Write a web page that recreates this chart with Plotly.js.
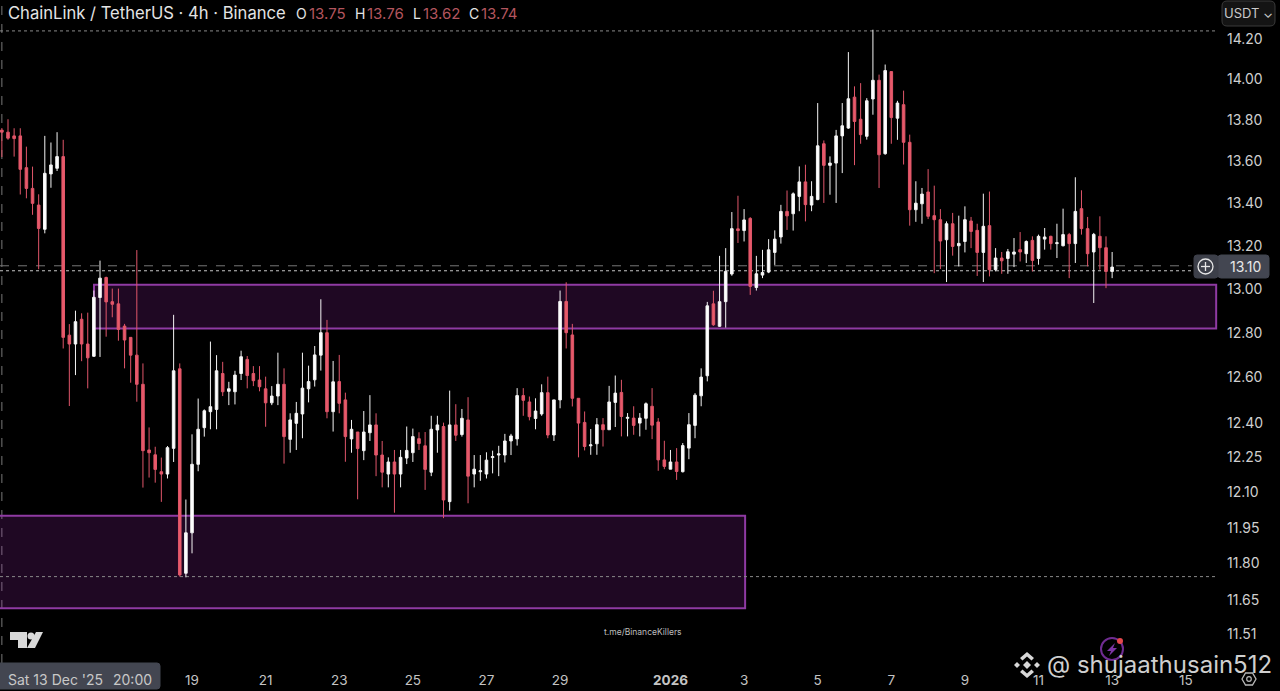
<!DOCTYPE html>
<html>
<head>
<meta charset="utf-8">
<script src="https://cdn.plot.ly/plotly-3.0.1.min.js"></script>
<style>html,body{margin:0;padding:0;background:#000;overflow:hidden}#chart{width:1280px;height:691px}</style>
</head>
<body>
<div id="chart"></div>
<script>
const firstBar = "2025-12-13T20:00:00Z";
const barHours = 4;

const opens = [
13.75,13.740,13.722,13.722,13.569,13.470,13.391,13.277,13.539,13.566,13.622,12.790,12.750,12.862,12.750,12.695,12.961,13.053,12.942,12.932,
12.831,12.780,12.700,12.570,12.282,12.261,12.188,12.178,12.289,12.639,11.759,11.928,12.220,12.379,12.449,12.459,12.618,12.539,12.537,12.618,
12.681,12.618,12.589,12.550,12.488,12.518,12.570,12.328,12.398,12.439,12.550,12.590,12.700,12.801,12.449,12.582,12.501,12.330,12.360,12.279,
12.357,12.391,12.260,12.178,12.230,12.178,12.247,12.270,12.331,12.300,12.186,12.369,12.384,12.060,12.391,12.349,12.413,12.178,12.188,12.178,
12.249,12.260,12.260,12.321,12.330,12.520,12.492,12.419,12.439,12.533,12.347,12.501,12.943,12.791,12.508,12.402,12.300,12.309,12.392,12.370,
12.490,12.534,12.420,12.421,12.399,12.420,12.473,12.404,12.239,12.199,12.230,12.188,12.290,12.389,12.519,12.608,12.932,12.830,12.942,13.069,
13.279,13.271,13.328,13.007,13.064,13.078,13.169,13.241,13.361,13.350,13.432,13.501,13.391,13.417,13.684,13.580,13.591,13.722,13.760,13.911,
13.803,13.720,13.902,13.994,13.636,14.037,13.808,13.874,13.691,13.369,13.397,13.453,13.341,13.322,13.228,13.303,13.200,13.220,13.316,13.272,
13.169,13.294,13.089,13.143,13.141,13.161,13.182,13.163,13.225,13.141,13.231,13.244,13.210,13.200,13.252,13.210,13.374,13.280,13.171,13.244,
13.191,13.081];
const highs = [
13.76,13.803,13.759,13.759,13.670,13.574,13.442,13.722,13.690,13.740,13.703,12.840,12.901,12.889,12.892,12.993,13.131,13.057,13.002,13.002,
12.841,12.780,13.180,12.663,12.380,12.296,12.249,12.299,12.882,12.663,12.069,12.350,12.507,12.459,12.761,12.700,12.670,12.581,12.630,12.720,
12.696,12.651,12.651,12.604,12.562,12.711,12.641,12.442,12.492,12.711,12.653,12.741,12.953,12.859,12.674,12.701,12.533,12.413,12.360,12.452,
12.522,12.442,12.321,12.250,12.282,12.282,12.384,12.375,12.359,12.360,12.431,12.431,12.401,12.542,12.482,12.461,12.513,12.260,12.260,12.272,
12.279,12.300,12.352,12.352,12.553,12.553,12.516,12.508,12.570,12.604,12.501,12.993,13.031,12.841,12.508,12.450,12.373,12.421,12.421,12.563,
12.609,12.590,12.443,12.473,12.443,12.490,12.553,12.421,12.322,12.282,12.290,12.312,12.443,12.531,12.641,12.941,12.992,13.153,13.189,13.358,
13.435,13.372,13.334,13.153,13.181,13.231,13.272,13.392,13.460,13.451,13.575,13.583,13.504,13.882,13.700,13.623,13.751,13.882,14.134,13.964,
13.980,13.906,14.246,14.022,14.072,14.039,13.893,13.943,13.728,13.504,13.472,13.562,13.483,13.372,13.314,13.354,13.341,13.385,13.335,13.303,
13.445,13.455,13.189,13.171,13.185,13.236,13.264,13.225,13.244,13.252,13.283,13.247,13.303,13.374,13.260,13.523,13.461,13.335,13.260,13.338,
13.244,13.171];
const lows = [
13.62,13.703,13.622,13.441,13.423,13.345,13.091,13.258,13.473,13.553,12.730,12.474,12.611,12.673,12.552,12.692,12.692,12.783,12.871,12.765,
12.641,12.577,12.493,12.120,12.163,12.141,12.059,12.159,12.230,11.745,11.742,11.842,12.190,12.340,12.372,12.372,12.518,12.478,12.481,12.589,
12.552,12.562,12.539,12.383,12.478,12.478,12.223,12.270,12.282,12.333,12.490,12.560,12.631,12.420,12.362,12.442,12.231,12.270,12.070,12.238,
12.321,12.169,12.121,12.121,12.013,12.121,12.221,12.230,12.282,12.110,12.169,12.270,11.990,12.022,12.321,12.340,12.053,12.121,12.149,12.159,
12.181,12.169,12.228,12.260,12.301,12.431,12.411,12.372,12.431,12.333,12.321,12.464,12.730,12.472,12.250,12.280,12.261,12.261,12.297,12.370,
12.382,12.341,12.341,12.348,12.341,12.370,12.329,12.192,12.199,12.199,12.153,12.185,12.242,12.333,12.473,12.583,12.832,12.827,12.824,13.061,
13.213,13.220,12.973,12.993,13.050,13.073,13.111,13.210,13.274,13.271,13.362,13.314,13.362,13.414,13.401,13.440,13.401,13.543,13.756,13.581,
13.684,13.704,13.825,13.472,13.631,13.684,13.703,13.584,13.294,13.312,13.303,13.325,13.073,13.092,13.032,13.154,13.104,13.169,13.189,13.060,
13.032,13.058,13.081,13.070,13.070,13.101,13.127,13.120,13.081,13.112,13.182,13.182,13.143,13.197,13.050,13.120,13.252,13.104,12.936,13.089,
13.004,13.050];
const closes = [
13.74,13.711,13.709,13.561,13.470,13.399,13.281,13.542,13.582,13.622,12.780,12.750,12.851,12.750,12.688,12.962,13.050,12.941,12.930,12.816,
12.768,12.700,12.570,12.279,12.270,12.198,12.178,12.292,12.630,11.752,11.928,12.220,12.372,12.453,12.471,12.630,12.537,12.550,12.611,12.693,
12.609,12.586,12.559,12.488,12.518,12.570,12.340,12.413,12.442,12.553,12.582,12.701,12.801,12.449,12.581,12.486,12.340,12.372,12.288,12.360,
12.391,12.260,12.186,12.230,12.178,12.250,12.280,12.340,12.310,12.198,12.372,12.391,12.067,12.391,12.346,12.420,12.169,12.199,12.192,12.238,
12.253,12.265,12.321,12.343,12.520,12.499,12.427,12.452,12.533,12.347,12.501,12.943,12.801,12.508,12.399,12.297,12.304,12.392,12.370,12.492,
12.531,12.428,12.424,12.389,12.421,12.484,12.390,12.239,12.211,12.230,12.189,12.301,12.392,12.522,12.602,12.923,12.837,12.942,13.081,13.280,
13.271,13.321,13.012,13.070,13.076,13.181,13.231,13.361,13.340,13.444,13.501,13.393,13.432,13.674,13.580,13.591,13.722,13.771,13.903,13.792,
13.728,13.893,13.994,13.631,14.042,13.811,13.882,13.691,13.369,13.400,13.443,13.338,13.322,13.222,13.303,13.197,13.211,13.322,13.267,13.169,
13.291,13.089,13.143,13.130,13.172,13.171,13.171,13.220,13.132,13.244,13.241,13.210,13.214,13.252,13.210,13.361,13.280,13.163,13.253,13.191,
13.081,13.101];

const xTickDates = ["2025-12-19","2025-12-21","2025-12-23","2025-12-25","2025-12-27","2025-12-29","2026-01-01","2026-01-03","2026-01-05","2026-01-07","2026-01-09","2026-01-11","2026-01-13","2026-01-15"];
const xTickLabels = ["19","21","23","25","27","29","<b>2026</b>","3","5","7","9","11","13","15"];
const yTickValues = [14.20,14.00,13.80,13.60,13.40,13.20,13.00,12.80,12.60,12.40,12.25,12.10,11.95,11.80,11.65,11.51];
const yTickLabels = ["14.20","14.00","13.80","13.60","13.40","13.20","13.00","12.80","12.60","12.40","12.25","12.10","11.95","11.80","11.65","11.51"];

const upperZone = {from:"2025-12-16 08:05", to:"2026-01-15 19:50", top:13.02, bottom:12.82};
const lowerZone = {from:"2025-12-13 06:00", to:"2026-01-03 00:40", top:12.00, bottom:11.615};
const periodHigh = 14.24, periodLow = 11.745, crosshairPrice = 13.107, lastPrice = 13.084;

const xStart = "2025-12-13 18:47", xEnd = "2026-01-15 22:20";
const yLogRange = [1.05661, 1.15825];

const FONT = "Inter, 'Noto Sans', sans-serif";
const times = opens.map((_, i) => new Date(Date.parse(firstBar) + i * barHours * 3600000).toISOString().slice(0,16).replace("T"," "));

const W = 1220, H = 663;
const px = v => v / W, py = v => 1 - v / H;
const P = pts => pts.map((p,i) => (i ? "L" : "M") + px(p[0]) + "," + py(p[1])).join(" ") + " Z";
function paperShape(o){ return Object.assign({xref:"paper", yref:"paper", layer:"above"}, o); }
function rr(x0,y0,x1,y1,r,fill,stroke){
  const d = `M${px(x0+r)},${py(y0)} L${px(x1-r)},${py(y0)} Q${px(x1)},${py(y0)} ${px(x1)},${py(y0+r)} L${px(x1)},${py(y1-r)} Q${px(x1)},${py(y1)} ${px(x1-r)},${py(y1)} L${px(x0+r)},${py(y1)} Q${px(x0)},${py(y1)} ${px(x0)},${py(y1-r)} L${px(x0)},${py(y0+r)} Q${px(x0)},${py(y0)} ${px(x0+r)},${py(y0)} Z`;
  return paperShape({type:"path", path:d, fillcolor:fill, line:{color:stroke||fill, width:1}});
}
function circ(cx,cy,r,stroke,width,fill){
  return paperShape({type:"circle", x0:px(cx-r), x1:px(cx+r), y0:py(cy+r), y1:py(cy-r), line:{color:stroke, width:width}, fillcolor:fill||"rgba(0,0,0,0)"});
}
function zone(z){
  return {type:"rect", xref:"x", yref:"y", layer:"below", x0:z.from, x1:z.to, y0:z.bottom, y1:z.top,
          fillcolor:"rgba(156,39,176,0.2)", line:{color:"#8f3aa3", width:2}};
}
function hline(y,dash,color,x1){
  return {type:"line", xref:"x", yref:"y", layer:"below", x0:xStart, x1:x1, y0:y, y1:y, line:{color:color, width:1, dash:dash}};
}
function fill(path){ return paperShape({type:"path", path:path, fillcolor:"#d8d8d8", line:{width:0}}); }

const LX = 1027, LY = 665;
const shapes = [
  zone(upperZone), zone(lowerZone),
  hline(periodHigh,"dot","#8a8a8a","2026-01-15 19:50"),
  hline(periodLow,"dot","#8a8a8a","2026-01-15 19:50"),
  hline(crosshairPrice,"dash","#777","2026-01-15 04:00"),
  hline(lastPrice,"dot","#c8c8c8","2026-01-15 04:00"),
  {type:"line", xref:"x", yref:"paper", layer:"below", x0:"2025-12-13 20:00", x1:"2025-12-13 20:00", y0:0, y1:1, line:{color:"#777", width:1, dash:"dash"}},
  rr(1222,1,1275,26,5,"#141414","#3a3a3a"),
  rr(1218,255,1269,278,3,"#434651"),
  rr(1194,255,1218,278,3,"#3c3f49"),
  circ(1205.5,266.5,7.5,"#e6e6e6",1.3),
  paperShape({type:"line",x0:px(1201),x1:px(1210),y0:py(266.5),y1:py(266.5),line:{color:"#e6e6e6",width:1.3}}),
  paperShape({type:"line",x0:px(1205.5),x1:px(1205.5),y0:py(262),y1:py(271),line:{color:"#e6e6e6",width:1.3}}),
  rr(-4,663,160,689,3,"#434651"),
  // TradingView mark
  fill(P([[10,632],[27,632],[27,648],[18,648],[18,640],[10,640]])),
  circ(31,636,3.5,"#d8d8d8",0,"#d8d8d8"),
  fill(P([[36,632],[43,632],[35,648],[27,648]])),
  // lightning badge
  circ(1112,649,11,"#6f2c91",2),
  paperShape({type:"path", path:P([[1115,643],[1107,651],[1111,651],[1109,656],[1117,648],[1113,648]]), fillcolor:"#7d35a5", line:{width:0}}),
  circ(1120,641,3,"#e5484d",0,"#e5484d"),
  // gear
  paperShape({type:"path", path:P([[1242,679],[1245.5,673],[1252.5,673],[1256,679],[1252.5,685],[1245.5,685]]), line:{color:"#b8b8b8",width:1.3}}),
  circ(1249,679,2.3,"#b8b8b8",1.2),
  // Binance mark
  fill(P([[LX,LY-4],[LX+4,LY],[LX,LY+4],[LX-4,LY]])),
  fill(P([[LX-10,LY-3],[LX-7,LY],[LX-10,LY+3],[LX-13,LY]])),
  fill(P([[LX+10,LY-3],[LX+13,LY],[LX+10,LY+3],[LX+7,LY]])),
  fill(P([[LX-7,LY-7],[LX,LY-13],[LX+7,LY-7],[LX+4.5,LY-4.5],[LX,LY-8.5],[LX-4.5,LY-4.5]])),
  fill(P([[LX-7,LY+7],[LX,LY+13],[LX+7,LY+7],[LX+4.5,LY+4.5],[LX,LY+8.5],[LX-4.5,LY+4.5]]))
];

function label(x,y,text,size,color,anchor){
  return {xref:"paper", yref:"paper", x:px(x), y:py(y), text:text, showarrow:false, xanchor:anchor||"left", yanchor:"middle",
          font:{family:FONT, size:size, color:color}, align:"left", borderpad:0};
}
const RED = "#b3555e", HDR = "#e4e4e4";
const annotations = [
  label(7,13,"ChainLink / TetherUS · 4h · Binance",16.6,HDR),
  label(295,13,"O",14,HDR), label(308,13,"13.75",15,RED),
  label(354,13,"H",14,HDR), label(366,13,"13.76",15,RED),
  label(412,13,"L",14,HDR), label(422,13,"13.62",15,RED),
  label(468,13,"C",14,HDR), label(480,13,"13.74",15,RED),
  label(1248,13,"USDT ⌄",13,"#c9c9c9","center"),
  label(1245,266.5,"13.10",14,"#e8e8e8","center"),
  label(7,679,"Sat 13 Dec '25",14,"#c8c8c8"),
  label(112,679,"20:00",14,"#c8c8c8"),
  label(643,632,"t.me/BinanceKillers",8.5,"#bdbdbd","center"),
  label(1046,664,"@ shujaathusain512",24,"#cfcfcf")
];

const data = [{
  type:"candlestick", x:times, open:opens, high:highs, low:lows, close:closes,
  increasing:{line:{color:"#f4f4f4", width:1}, fillcolor:"#ffffff"},
  decreasing:{line:{color:"#e0566a", width:1}, fillcolor:"#e85a69"},
  whiskerwidth:0, hoverinfo:"skip", showlegend:false
}];

const layout = {
  width:1280, height:691, margin:{l:0, r:60, t:0, b:28, pad:0},
  paper_bgcolor:"#000", plot_bgcolor:"#000", showlegend:false, hovermode:false, boxgap:0.4,
  font:{family:FONT, color:"#c9cbd0"},
  xaxis:{type:"date", range:[xStart,xEnd], tickmode:"array", tickvals:xTickDates, ticktext:xTickLabels, ticklabelstandoff:7,
         tickfont:{family:FONT,size:13.5,color:"#c4c4c4"}, tickangle:0, showgrid:false, zeroline:false, showline:false, ticks:"", rangeslider:{visible:false}, fixedrange:true},
  yaxis:{type:"log", range:yLogRange, side:"right", tickmode:"array", tickvals:yTickValues, ticktext:yTickLabels, ticklabelstandoff:6,
         tickfont:{family:FONT,size:14,color:"#cfcfcf"}, showgrid:false, zeroline:false, showline:false, ticks:"", fixedrange:true, automargin:false},
  shapes:shapes, annotations:annotations
};
Plotly.newPlot("chart", data, layout, {displayModeBar:false, staticPlot:true});
</script>
</body>
</html>
